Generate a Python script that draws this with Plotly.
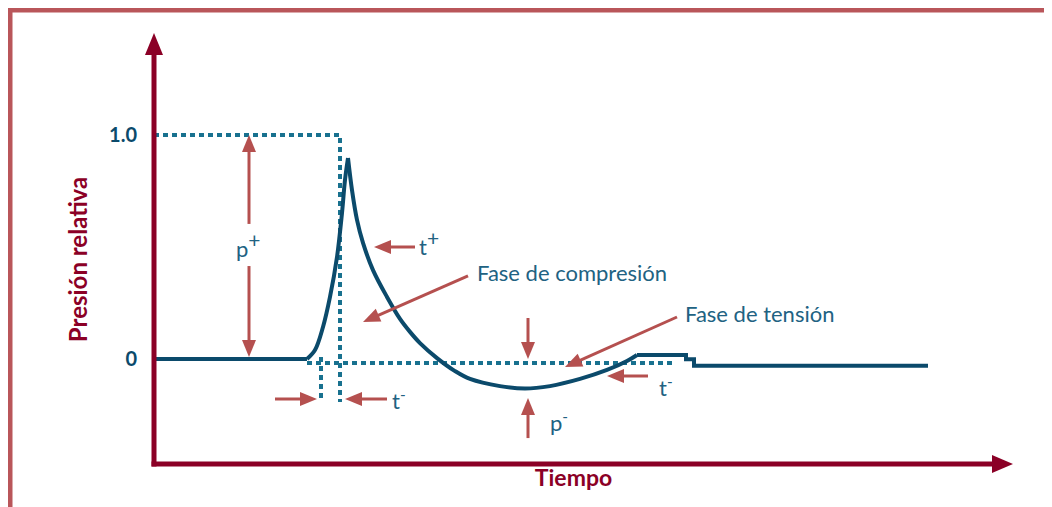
import math
import plotly.graph_objects as go

# Schematic blast pressure-time history (time in arbitrary units, pressure relative to peak)
t_base = [0, 15.3]
p_base = [0, 0]

t_rise = [15.3, 16.1, 16.9, 17.6, 18.3, 18.8, 19.1, 19.4]
p_rise = [0, 0.040, 0.143, 0.277, 0.455, 0.652, 0.799, 0.897]

t_decay = [19.4, 19.8, 20.3, 20.9, 21.9, 23.3, 24.6, 25.6, 26.6, 28.3,
           30.1, 31.6, 34.6, 37.1, 39.6, 42.6, 45.3, 47.3, 48.3]
p_decay = [0.897, 0.754, 0.621, 0.518, 0.397, 0.277, 0.179, 0.121, 0.071, 0.004,
           -0.054, -0.089, -0.121, -0.132, -0.121, -0.089, -0.049, -0.009, 0.018]

t_tail = [48.3, 53.2, 53.2, 54.0, 54.0, 77.4]
p_tail = [0.018, 0.018, -0.001, -0.001, -0.030, -0.030]

# dotted guide lines
t_peak_guide = [0, 18.6, 18.6]
p_peak_guide = [1.0, 1.0, -0.192]
t_onset_guide = [16.7, 16.7]
p_onset_guide = [0.009, -0.192]
t_zero_guide = [15.3, 52.1]
p_zero_guide = [-0.018, -0.018]

tick_vals = [0, 1.0]
tick_text = ["0", "1.0"]

AXIS = "#8b0026"
FRAME = "#b9565a"
ARROW = "#b5504f"
CURVE = "#0b4a6b"
DOTS = "#18718f"
LABEL = "#216282"
FONT = "Lato"

# page layout in pixels (page has an 8px body margin around the figure)
OFF = 8
W, H = 1052, 507
L, R, T, B = 154, 993, 55, 464
X_SCALE = 10      # px per time unit
Y_ZERO, Y_SCALE = 359, 224   # px of p=0, px per unit pressure


def px(x):
    return (x - L) / (R - L)


def py(y):
    return (B - y) / (B - T)


def to_page(t, p):
    return L + t * X_SCALE, Y_ZERO - p * Y_SCALE


fig = go.Figure()


def add_arrow(x0, y0, x1, y1, color, width, head_len, head_hw):
    # straight arrow between page pixel points, drawn as paper shapes
    dx, dy = x1 - x0, y1 - y0
    n = math.hypot(dx, dy)
    ux, uy = dx / n, dy / n
    bx, by = x1 - ux * head_len, y1 - uy * head_len
    lx, ly = x1 - ux * head_len * 0.5, y1 - uy * head_len * 0.5
    fig.add_shape(type="line", xref="paper", yref="paper",
                  x0=px(x0), y0=py(y0), x1=px(lx), y1=py(ly),
                  line=dict(color=color, width=width))
    nx, ny = -uy, ux
    path = "M{:.5f},{:.5f} L{:.5f},{:.5f} L{:.5f},{:.5f} Z".format(
        px(x1), py(y1),
        px(bx + nx * head_hw), py(by + ny * head_hw),
        px(bx - nx * head_hw), py(by - ny * head_hw))
    fig.add_shape(type="path", xref="paper", yref="paper", path=path,
                  fillcolor=color, line=dict(width=0))


for tx, ty in [(t_peak_guide, p_peak_guide), (t_onset_guide, p_onset_guide), (t_zero_guide, p_zero_guide)]:
    fig.add_trace(go.Scatter(x=tx, y=ty, mode="lines", hoverinfo="skip",
                             line=dict(color=DOTS, width=4, dash="5px,4px")))

fig.add_trace(go.Scatter(x=t_base, y=p_base, mode="lines", line=dict(color=CURVE, width=4)))
fig.add_trace(go.Scatter(x=t_rise, y=p_rise, mode="lines",
                         line=dict(color=CURVE, width=4, shape="spline")))
fig.add_trace(go.Scatter(x=t_decay, y=p_decay, mode="lines",
                         line=dict(color=CURVE, width=4, shape="spline")))
fig.add_trace(go.Scatter(x=t_tail, y=p_tail, mode="lines", line=dict(color=CURVE, width=4)))

# red pointer arrows (tail -> tip, data units)
arrows = [
    ((9.5, 0.603), (9.5, 1.0)),
    ((9.5, 0.415), (9.5, 0.009)),
    ((26.1, 0.5), (22.0, 0.5)),
    ((31.4, 0.371), (20.9, 0.165)),
    ((52.3, 0.1875), (41.1, -0.036)),
    ((37.4, 0.183), (37.4, 0.0)),
    ((37.4, -0.353), (37.4, -0.174)),
    ((12.1, -0.179), (16.3, -0.179)),
    ((23.3, -0.179), (19.1, -0.179)),
    ((49.4, -0.076), (45.3, -0.076)),
]
for tail, tip in arrows:
    add_arrow(*to_page(*tail), *to_page(*tip), ARROW, 3, 17, 7)

big_plus = '<sup><span style="font-size:21px">+</span></sup>'
labels = [
    (9.4, 0.509, "p" + big_plus, "center"),
    (26.3, 0.522, "t" + big_plus, "left"),
    (32.1, 0.388, "Fase de compresión", "left"),
    (52.9, 0.205, "Fase de tensión", "left"),
    (39.4, -0.281, "p<sup>-</sup>", "left"),
    (23.6, -0.183, "t<sup>-</sup>", "left"),
    (50.3, -0.121, "t<sup>-</sup>", "left"),
]
for x, y, txt, anchor in labels:
    fig.add_annotation(x=x, y=y, xref="x", yref="y", text=txt, showarrow=False,
                       xanchor=anchor, yanchor="middle",
                       font=dict(family=FONT, size=22, color=LABEL))

# axes drawn as arrows
add_arrow(154, 466.5, 154, 33, AXIS, 5, 22, 9)
add_arrow(151.5, 464, 1013, 464, AXIS, 5, 21, 9)

# outer frame
fig.add_shape(type="line", xref="paper", yref="paper", x0=px(7.5), x1=px(1060),
              y0=py(10), y1=py(10), line=dict(color=FRAME, width=5))
fig.add_shape(type="line", xref="paper", yref="paper", x0=px(10), x1=px(10),
              y0=py(10), y1=py(520), line=dict(color=FRAME, width=5))

fig.update_layout(
    width=W - OFF, height=H - OFF,
    margin=dict(l=L - OFF, r=W - R, t=T - OFF, b=H - B),
    plot_bgcolor="white", paper_bgcolor="white",
    showlegend=False,
    font=dict(family=FONT),
    xaxis=dict(range=[0, (R - L) / X_SCALE], showgrid=False, zeroline=False, showline=False,
               showticklabels=False, ticks="", automargin=False,
               title=dict(text="Tiempo", standoff=5,
                          font=dict(family=FONT, size=23, color=AXIS, weight="bold"))),
    yaxis=dict(range=[(Y_ZERO - B) / Y_SCALE, (Y_ZERO - T) / Y_SCALE], showgrid=False,
               zeroline=False, showline=False, tickvals=tick_vals, ticktext=tick_text,
               ticks="outside", ticklen=12, tickcolor="rgba(0,0,0,0)", automargin=False,
               tickfont=dict(family=FONT, size=20, color=CURVE, weight="bold"),
               title=dict(text="Presión relativa", standoff=14,
                          font=dict(family=FONT, size=24, color=AXIS, weight="bold"))),
)

fig.write_html("out.html")
